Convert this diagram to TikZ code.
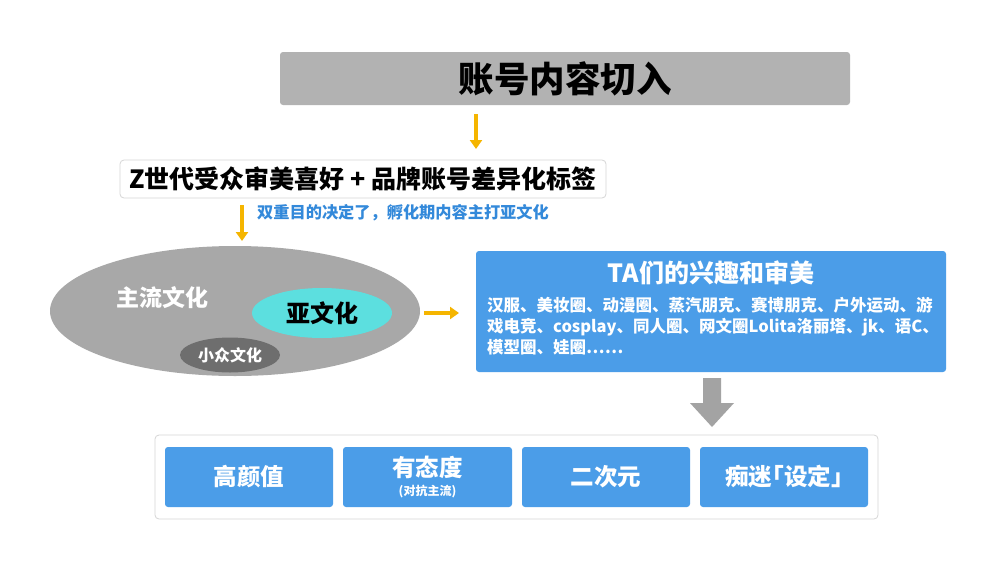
\documentclass[tikz,border=0pt]{standalone}
\usepackage{fontspec}
\setmainfont{Noto Sans CJK SC}
\usetikzlibrary{arrows.meta,shapes.geometric}
\definecolor{topgray}{HTML}{B2B2B2}
\definecolor{biggray}{HTML}{A8A8A8}
\definecolor{darkgray}{HTML}{6E6E6E}
\definecolor{cyanfill}{HTML}{5CDFDF}
\definecolor{bluefill}{HTML}{4B9DE8}
\definecolor{goldarrow}{HTML}{F5B500}
\definecolor{bordergray}{HTML}{D6D6D6}
\definecolor{bluetext}{HTML}{3389DA}
\definecolor{arrowgray}{HTML}{A3A3A3}
\tikzset{
  yarrow/.style={draw=goldarrow,line width=3.5pt,-{Triangle[width=12pt,length=9pt]}},
  bluebox/.style={fill=bluefill,rounded corners=3pt,draw=none,text=white,font=\bfseries},
  whitebox/.style={fill=white,draw=bordergray,line width=0.8pt,rounded corners=4pt},
  oval/.style={ellipse,draw=none,inner sep=0pt},
  boxfont/.style={font=\bfseries\fontsize{23.5}{26}\selectfont}
}
\begin{document}
\begin{tikzpicture}[x=1pt,y=-1pt]
\useasboundingbox (0,0) rectangle (1000,562);
\fill[white] (0,0) rectangle (1000,562);
% top box
\node[fill=topgray,rounded corners=3pt,minimum width=570pt,minimum height=53pt,inner sep=0pt,font=\bfseries\fontsize{35.5}{38}\selectfont] (top) at (565,78.5) {账号内容切入};
% second box
\node[whitebox,minimum width=486pt,minimum height=38pt,inner sep=0pt,font=\bfseries\fontsize{25}{28}\selectfont] (z) at (363,179) {Z世代受众审美喜好 + 品牌账号差异化标签};
\coordinate (a1s) at (476,114);
\coordinate (a1e) at (476,149);
\draw[yarrow] (a1s) -- (a1e);
\coordinate (a2s) at (242,205);
\coordinate (a2e) at (242,241);
\draw[yarrow] (a2s) -- (a2e);
\node[anchor=west,text=bluetext,font=\bfseries\fontsize{16.2}{18}\selectfont,inner sep=0pt] (note) at (257,213) {双重目的决定了，孵化期内容主打亚文化};
% ellipses
\node[oval,fill=biggray,minimum width=370pt,minimum height=130pt] (main) at (235,311) {};
\node[text=white,font=\bfseries\fontsize{23}{26}\selectfont,inner sep=0pt] (maint) at (162,298) {主流文化};
\node[oval,fill=cyanfill,minimum width=140pt,minimum height=50pt,font=\bfseries\fontsize{24}{27}\selectfont] (sub) at (322,313) {亚文化};
\node[oval,fill=darkgray,minimum width=100pt,minimum height=35pt,text=white,font=\bfseries\fontsize{16}{18}\selectfont] (niche) at (230,355) {小众文化};
% right arrow
\coordinate (a3s) at (424,313);
\coordinate (a3e) at (459,313);
\draw[yarrow] (a3s) -- (a3e);
% blue box
\node[bluebox,minimum width=470pt,minimum height=121pt,inner sep=0pt] (ta) at (711,311.5) {};
\node[text=white,font=\bfseries\fontsize{25}{28}\selectfont,inner sep=0pt] (tat) at (711,273) {TA们的兴趣和审美};
\node[anchor=north west,text=white,font=\bfseries\fontsize{16.5}{21}\selectfont,align=left,inner sep=0pt] (tab) at (487,297) {汉服、美妆圈、动漫圈、蒸汽朋克、赛博朋克、户外运动、游\\戏电竞、cosplay、同人圈、网文圈Lolita洛丽塔、jk、语C、\\模型圈、娃圈……};
% gray block arrow
\fill[arrowgray] (703,378) -- (721,378) -- (721,403) -- (734,403) -- (712,427) -- (690,403) -- (703,403) -- cycle;
% bottom container
\node[whitebox,minimum width=723pt,minimum height=84pt,inner sep=0pt] (outer) at (516.5,477) {};
\node[bluebox,boxfont,minimum width=168pt,minimum height=60pt,inner sep=0pt] (b1) at (249,477) {高颜值};
\node[bluebox,minimum width=169pt,minimum height=60pt,inner sep=0pt] (b2) at (427.5,477) {};
\node[text=white,boxfont,inner sep=0pt] (b2t) at (427.5,467) {有态度};
\node[text=white,font=\bfseries\fontsize{12}{14}\selectfont,inner sep=0pt] (b2s) at (427.5,492) {(对抗主流)};
\node[bluebox,boxfont,minimum width=168pt,minimum height=60pt,inner sep=0pt] (b3) at (606,477) {二次元};
\node[bluebox,boxfont,minimum width=168pt,minimum height=60pt,inner sep=0pt] (b4) at (784,477) {痴迷｢设定｣};
\end{tikzpicture}
\end{document}
